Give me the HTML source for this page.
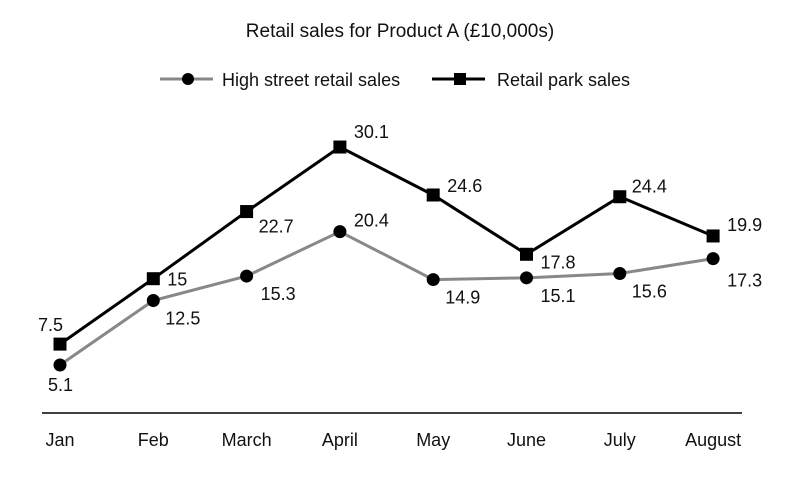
<!DOCTYPE html>
<html><head><meta charset="utf-8"><style>
html,body{margin:0;padding:0;background:#fff;}
svg{display:block;font-family:"Liberation Sans",sans-serif;}
</style></head><body>
<svg id="chart" width="800" height="477" viewBox="0 0 800 477">
<text x="400" y="37" text-anchor="middle" font-size="19" fill="#111">Retail sales for Product A (£10,000s)</text>
<g>
<g>
<line x1="160" y1="79" x2="213" y2="79" stroke="#888" stroke-width="3"/>
<circle cx="188" cy="79" r="6" fill="#000"/>
<text x="222" y="86" font-size="18" fill="#111">High street retail sales</text>
</g>
<g>
<line x1="432" y1="79" x2="485" y2="79" stroke="#000" stroke-width="3"/>
<rect x="454" y="73" width="12" height="12" fill="#000"/>
<text x="497" y="86" font-size="18" fill="#111">Retail park sales</text>
</g>
</g>
<line x1="42" y1="413" x2="742" y2="413" stroke="#000" stroke-width="1.5"/>
<g id="plot"></g>
</svg>
<script>
const categories=["Jan","Feb","March","April","May","June","July","August"];
const highStreet=[5.1,12.5,15.3,20.4,14.9,15.1,15.6,17.3];
const retailPark=[7.5,15,22.7,30.1,24.6,17.8,24.4,19.9];
const hsLabelOff=[[-12,26],[12,24],[14,24],[14,-5],[12,24],[14,24],[12,24],[14,28]];
const rpLabelOff=[[-22,-13],[14,7],[12,21],[14,-9],[14,-3],[14,14],[12,-4],[14,-5]];
const xs=i=>60+i*93.3;
const ys=v=>409.5-v*8.72;
const NS="http://www.w3.org/2000/svg";
const plot=document.getElementById('plot');
function mk(t,a){const e=document.createElementNS(NS,t);for(const k in a)e.setAttribute(k,a[k]);plot.appendChild(e);return e;}
categories.forEach((c,i)=>{
 const t=mk('text',{x:xs(i),y:446,'text-anchor':'middle','font-size':18,fill:'#111'});
 t.textContent=c;
 
 
});
function series(vals,color,name,shape,offs){
 const p=mk('polyline',{points:vals.map((v,i)=>xs(i)+','+ys(v)).join(' '),fill:'none',stroke:color,'stroke-width':3});
 
 
 vals.forEach((v,i)=>{
  let m;
  if(shape==='c'){m=mk('circle',{cx:xs(i),cy:ys(v),r:6.5,fill:'#000'});}
  else{m=mk('rect',{x:xs(i)-6.5,y:ys(v)-6.5,width:13,height:13,fill:'#000'});}
  
  
  const t=mk('text',{x:xs(i)+offs[i][0],y:ys(v)+offs[i][1],'font-size':18,fill:'#111'});
  t.textContent=String(v);
  
  
 });
}
series(highStreet,'#888','high-street','c',hsLabelOff);
series(retailPark,'#000','retail-park','s',rpLabelOff);
</script>
</body></html>
